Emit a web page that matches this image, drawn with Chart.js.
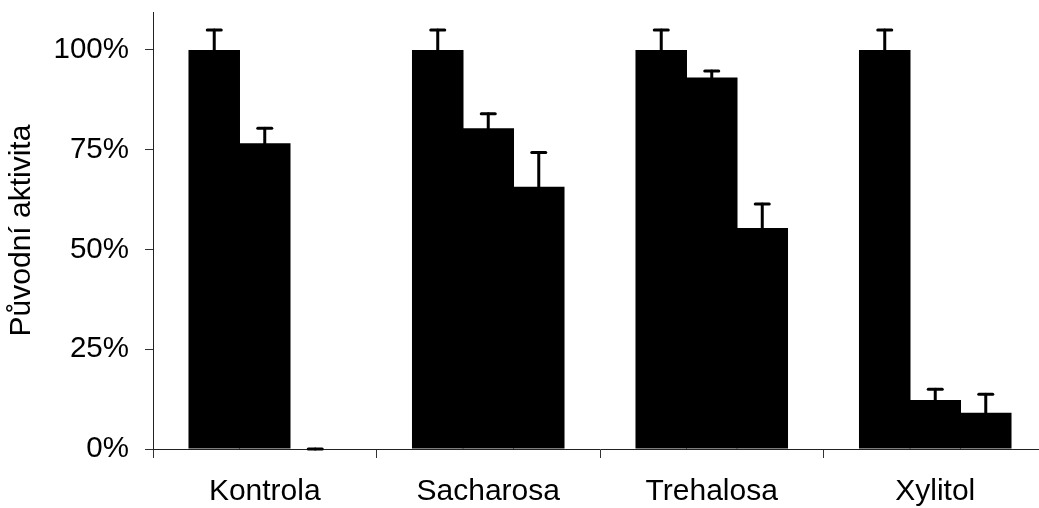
<!DOCTYPE html>
<html>
<head>
<meta charset="utf-8">
<script src="https://cdn.jsdelivr.net/npm/chart.js@4.4.1/dist/chart.umd.min.js"></script>
<style>
  html, body { margin: 0; padding: 0; background: #fff; overflow: hidden; }
  #wrap { position: absolute; left: 0; top: 0; width: 1048px; height: 508px; }
</style>
</head>
<body>
<div id="wrap"><canvas id="chart"></canvas></div>
<script>
// Categories (sugar additives) and tick values
const categories = ['Kontrola', 'Sacharosa', 'Trehalosa', 'Xylitol'];
const yTicks = [0, 25, 50, 75, 100];

// Remaining activity (%) for the three measurements per category
const series1 = [100, 100, 100, 100];
const series2 = [76.6, 80.4, 93.1, 12.3];
const series3 = [0, 65.7, 55.4, 9.1];

// Upper error (%)
const err1 = [5.0, 5.0, 5.0, 5.0];
const err2 = [3.8, 3.6, 1.6, 2.7];
const err3 = [0, 8.6, 6.0, 4.6];

const FONT = "'Liberation Sans', Arial, sans-serif";

// Draws the upper error whiskers from each bar's value using the y scale
const errorBars = {
  id: 'errorBars',
  afterDatasetsDraw(chart) {
    const ctx = chart.ctx;
    const y = chart.scales.y;
    ctx.save();
    ctx.strokeStyle = '#000';
    ctx.lineCap = 'round';
    ctx.lineWidth = 3;
    chart.data.datasets.forEach((ds, di) => {
      const meta = chart.getDatasetMeta(di);
      meta.data.forEach((bar, i) => {
        const v = ds.data[i];
        const e = ds.errors[i];
        const x = bar.x;
        const y0 = y.getPixelForValue(v);
        const y1 = y.getPixelForValue(v + e);
        ctx.beginPath();
        ctx.moveTo(x, y0);
        ctx.lineTo(x, y1);
        ctx.stroke();
        ctx.beginPath();
        ctx.moveTo(x - 7, y1);
        ctx.lineTo(x + 7, y1);
        ctx.stroke();
      });
    });
    ctx.restore();
  }
};

const mk = (data, errors) => ({
  data, errors,
  backgroundColor: '#000',
  borderWidth: 0,
  categoryPercentage: 0.678,
  barPercentage: 1.02
});

new Chart(document.getElementById('chart'), {
  type: 'bar',
  data: {
    labels: categories,
    datasets: [mk(series1, err1), mk(series2, err2), mk(series3, err3)]
  },
  options: {
    responsive: true,
    maintainAspectRatio: false,
    animation: false,
    events: [],
    layout: { padding: { top: 12, right: 1, bottom: 0, left: 0 } },
    plugins: { legend: { display: false }, tooltip: { enabled: false } },
    scales: {
      x: {
        offset: true,
        border: { display: true, color: '#222', width: 1 },
        grid: {
          offset: true,
          drawOnChartArea: false,
          drawTicks: true,
          tickLength: 9,
          tickColor: '#333',
          lineWidth: 1
        },
        ticks: {
          color: '#000',
          padding: 16,
          font: { family: FONT, size: 30 }
        },
        afterFit(s) { s.height = 59; s.paddingLeft = 0; s.paddingRight = 0; }
      },
      y: {
        min: 0,
        max: 109.5,
        border: { display: true, color: '#222', width: 1 },
        grid: {
          drawOnChartArea: false,
          drawTicks: true,
          tickLength: 8,
          tickColor: '#333',
          lineWidth: 1
        },
        afterBuildTicks(s) { s.ticks = yTicks.map(v => ({ value: v })); },
        ticks: {
          color: '#000',
          padding: 16,
          font: { family: FONT, size: 29.5 },
          callback: v => v + '%'
        },
        title: {
          display: true,
          text: 'Původní aktivita',
          color: '#000',
          padding: { top: 4, bottom: 0 },
          font: { family: FONT, size: 30 }
        },
        afterFit(s) { s.width = 153; s.paddingTop = 0; s.paddingBottom = 0; }
      }
    }
  },
  plugins: [errorBars]
});
</script>
</body>
</html>
